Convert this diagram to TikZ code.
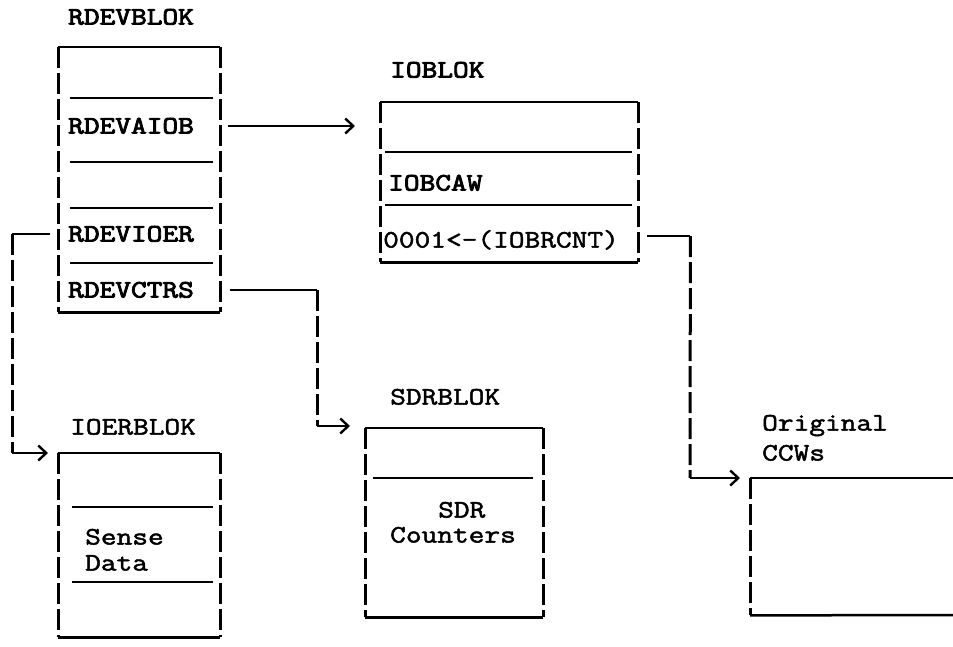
\documentclass[tikz,border=0pt]{standalone}
\usepackage{fontspec}
\newfontfamily\typeplain{Latin Modern Mono}[FakeStretch=1.22, FakeBold=2]
\newfontfamily\typeheavy{Latin Modern Mono}[FakeStretch=1.22, FakeBold=3.5]
\usetikzlibrary{arrows.meta,calc}

\tikzset{
  lbl/.style={anchor=west, inner sep=0pt, text height=15pt, text depth=0pt,
              font=\fontsize{25}{27}\selectfont\typeheavy},
  lbllight/.style={lbl, font=\fontsize{25}{27}\selectfont\typeplain},
  blockarea/.style={draw=none, inner sep=0pt, anchor=north west},
  hline/.style={line width=2.5pt, line cap=butt},
  vline/.style={line width=3pt, dash pattern=on 21pt off 5pt},
  sepline/.style={line width=2.4pt},
  tip/.style={-{Straight Barb[length=8pt,width=15pt,line width=2.4pt]}}
}

\begin{document}
\begin{tikzpicture}[x=1pt,y=-1pt]
  \useasboundingbox (0,0) rectangle (953,646);

  % ---- block outlines (invisible frames used as anchors) ----
  \node[blockarea, minimum width=162pt, minimum height=265pt] (rdev)  at (58,47)  {};
  \node[blockarea, minimum width=258pt, minimum height=160pt] (iob)   at (380,102) {};
  \node[blockarea, minimum width=178pt, minimum height=189pt] (sdr)   at (365,428) {};
  \node[blockarea, minimum width=162pt, minimum height=184pt] (ioerb) at (58,453) {};
  \node[blockarea, minimum width=210pt, minimum height=137pt] (orig)  at (750,478) {};

  % ---- closed blocks: solid top/bottom, dashed sides ----
  \foreach \b in {rdev,iob,sdr,ioerb}{
    \draw[hline] (\b.north west) -- (\b.north east);
    \draw[hline] (\b.south west) -- (\b.south east);
    \draw[vline] (\b.north west) -- (\b.south west);
    \draw[vline] (\b.north east) -- (\b.south east);
  }
  % open block on the right edge
  \draw[hline] (orig.north west) -- (953,478);
  \draw[hline] (orig.south west) -- (953,615);
  \draw[vline] (orig.north west) -- (orig.south west);

  % ---- field separators ----
  \foreach \y in {98,162,208,263}{\draw[sepline] (70,\y) -- (213,\y);}
  \foreach \y in {152,205}{\draw[sepline] (385,\y) -- (632,\y);}
  \draw[sepline] (373,478) -- (533,478);
  \foreach \y in {507,582}{\draw[sepline] (72,\y) -- (213,\y);}

  % ---- titles ----
  \node[lbl]      (trdev)  at (68,17)  {RDEVBLOK};
  \node[lbl]      (tiob)   at (390,70) {IOBLOK};
  \node[lbllight] (tsdr)   at (390,397) {SDRBLOK};
  \node[lbllight] (tioerb) at (70,427) {IOERBLOK};
  \node[lbllight] (torig1) at (762,423) {Original};
  \node[lbllight] (torig2) at (762,453) {CCWs};

  % ---- fields ----
  \node[lbl] (aiob) at (68,126) {RDEVAIOB};
  \node[lbl] (ioer) at (68,234) {RDEVIOER};
  \node[lbl] (ctrs) at (68,290) {RDEVCTRS};
  \node[lbl] (caw)  at (388,183) {IOBCAW};
  \node[lbllight] (cnt)  at (383,240) {0001<-(IOBRCNT)};
  \node[lbllight] (sdr1) at (438,510) {SDR};
  \node[lbllight] (sdr2) at (390,535) {Counters};
  \node[lbllight] (sns1) at (85,537) {Sense};
  \node[lbllight] (sns2) at (85,563) {Data};

  % ---- RDEVAIOB -> IOBLOK ----
  \draw[hline,tip] ([xshift=8pt]rdev.east |- aiob) -- ([xshift=-25pt]iob.west |- aiob);

  % ---- RDEVIOER -> IOERBLOK ----
  \coordinate (k2a) at ([xshift=-46pt]rdev.west |- ioer);
  \coordinate (k2b) at ([xshift=-46pt]ioerb.north west);
  \draw[hline] ([xshift=-8pt]rdev.west |- ioer) -- (k2a);
  \draw[vline] (k2a) -- (k2b);
  \draw[hline,tip] (k2b) -- ([xshift=-10pt]ioerb.north west);

  % ---- RDEVCTRS -> SDRBLOK ----
  \coordinate (k3a) at ([xshift=-48pt]sdr.west |- ctrs);
  \coordinate (k3b) at ([xshift=-48pt,yshift=2pt]sdr.north west);
  \draw[hline] ([xshift=10pt]rdev.east |- ctrs) -- (k3a);
  \draw[vline] (k3a) -- (k3b);
  \draw[hline,tip] (k3b) -- ([xshift=-15pt,yshift=2pt]sdr.north west);

  % ---- IOBRCNT -> original CCWs ----
  \coordinate (k4a) at ([xshift=52pt,yshift=4pt]iob.east |- cnt);
  \coordinate (k4b) at ([xshift=-60pt]orig.north west);
  \draw[hline] ([xshift=9pt,yshift=4pt]iob.east |- cnt) -- (k4a);
  \draw[vline] (k4a) -- (k4b);
  \draw[hline,tip] (k4b) -- ([xshift=-10pt]orig.north west);
\end{tikzpicture}
\end{document}
